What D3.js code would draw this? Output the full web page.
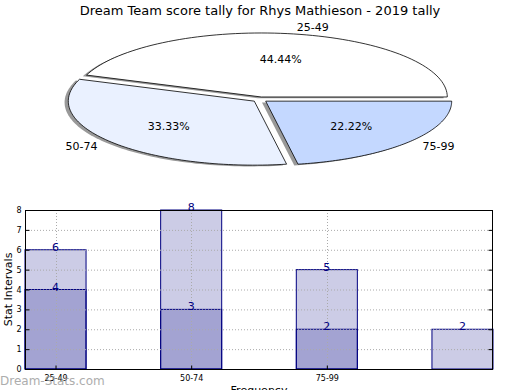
<!DOCTYPE html>
<html>
<head>
<meta charset="utf-8">
<script src="https://cdn.jsdelivr.net/npm/d3@7"></script>
<style>
body { margin: 0; background: #fff; }
text { font-family: "DejaVu Sans", sans-serif; }
</style>
</head>
<body>
<div id="chart"></div>
<script>
// data
var pieLabels = ["25-49", "50-74", "75-99"];
var pieValues = [4, 3, 2];
var pieColors = ["#ffffff", "#eaf1ff", "#c4d8ff"];

var barCats = ["25-49", "50-74", "75-99", ""];
var backVals = [6, 8, 5, 2];
var frontVals = [4, 3, 2, 0];
var yTicks = [0, 1, 2, 3, 4, 5, 6, 7, 8];

var W = 520, H = 390;
var svg = d3.select("#chart").append("svg")
    .attr("width", W).attr("height", H);

svg.append("text")
    .attr("x", 260).attr("y", 15)
    .attr("text-anchor", "middle")
    .attr("font-size", "13px")
    .text("Dream Team score tally for Rhys Mathieson - 2019 tally");

/////////////////////// pie ///////////////////////
var cx = 260, cy = 99.5, rx = 186, ry = 64, explode = 0.04;
var total = d3.sum(pieValues);
var arcs = d3.pie().sort(null).startAngle(0).endAngle(2 * Math.PI)(pieValues);

// angles go counter-clockwise from east (matplotlib style)
function wedgePath(a0, a1, ox, oy) {
    var n = 80, pts = [[ox, oy]];
    for (var i = 0; i <= n; i++) {
        var t = a0 + (a1 - a0) * i / n;
        pts.push([ox + rx * Math.cos(t), oy - ry * Math.sin(t)]);
    }
    return d3.line()(pts) + "Z";
}

var pie = svg.append("g");
// shadows first
arcs.forEach(function(a) {
    var mid = (a.startAngle + a.endAngle) / 2;
    a.mid = mid;
    a.ox = cx + explode * rx * Math.cos(mid);
    a.oy = cy - explode * ry * Math.sin(mid);
    pie.append("path")
        .attr("d", wedgePath(a.startAngle, a.endAngle, a.ox - 0.02 * rx, a.oy + 0.02 * ry))
        .attr("fill", "#000").attr("opacity", 0.4);
});
arcs.forEach(function(a, i) {
    pie.append("path")
        .attr("d", wedgePath(a.startAngle, a.endAngle, a.ox, a.oy))
        .attr("fill", pieColors[i])
        .attr("stroke", "#000").attr("stroke-width", 0.8);
});
arcs.forEach(function(a, i) {
    var c = Math.cos(a.mid), s = Math.sin(a.mid);
    pie.append("text")
        .attr("x", a.ox + 1.1 * rx * c)
        .attr("y", a.oy - 1.1 * ry * s)
        .attr("dy", "0.35em")
        .attr("text-anchor", c > 0 ? "start" : "end")
        .attr("font-size", "11px")
        .text(pieLabels[i]);
    pie.append("text")
        .attr("x", a.ox + 0.6 * rx * c)
        .attr("y", a.oy - 0.6 * ry * s)
        .attr("dy", "0.35em")
        .attr("text-anchor", "middle")
        .attr("font-size", "11px")
        .text((pieValues[i] / total * 100).toFixed(2) + "%");
});

/////////////////////// bars ///////////////////////
var bx0 = 25, bx1 = 493, by0 = 210, by1 = 369;
var barW = 0.45;
var x = d3.scaleLinear().domain([0, barCats.length - 1 + barW]).range([bx0, bx1]);
var y = d3.scaleLinear().domain([0, 8]).range([by1, by0]);
var navy = "#000080";

var g = svg.append("g");

function bars(vals) {
    vals.forEach(function(d, i) {
        if (d <= 0) return;
        g.append("rect")
            .attr("x", x(i))
            .attr("y", y(d))
            .attr("width", x(i + barW) - x(i))
            .attr("height", y(0) - y(d))
            .attr("fill", navy).attr("fill-opacity", 0.2)
            .attr("stroke", navy).attr("stroke-width", 1);
    });
}
bars(backVals);
bars(frontVals);

// grid
yTicks.slice(1, -1).forEach(function(t) {
    g.append("line")
        .attr("x1", bx0).attr("x2", bx1)
        .attr("y1", y(t) + 0.5).attr("y2", y(t) + 0.5)
        .attr("stroke", "#aaa").attr("stroke-dasharray", "1,2");
});
barCats.forEach(function(c, i) {
    if (!c) return;
    var xc = Math.round(x(i + barW / 2)) + 0.5;
    g.append("line")
        .attr("x1", xc).attr("x2", xc)
        .attr("y1", by0).attr("y2", by1)
        .attr("stroke", "#aaa").attr("stroke-dasharray", "1,2");
});

// value labels
function valLabels(vals) {
    vals.forEach(function(d, i) {
        if (d <= 0) return;
        g.append("text")
            .attr("x", x(i + barW / 2))
            .attr("y", y(d) + 1)
            .attr("text-anchor", "middle")
            .attr("font-size", "11px")
            .attr("fill", navy)
            .text(d);
    });
}
valLabels(backVals);
valLabels(frontVals);

// frame
g.append("rect")
    .attr("x", bx0 + 0.5).attr("y", by0 + 0.5)
    .attr("width", bx1 - bx0 - 1).attr("height", by1 - by0)
    .attr("fill", "none").attr("stroke", "#000").attr("stroke-width", 1);

// axes, ticks pointing inward
var yAxis = d3.axisLeft(y).tickValues(yTicks).tickSize(-4).tickPadding(4);
g.append("g").attr("transform", "translate(" + (bx0 + 0.5) + ",0)").call(yAxis)
    .call(function(s) { s.select(".domain").remove(); })
    .selectAll("text").attr("font-size", "8px").attr("font-family", "DejaVu Sans");
var yAxisR = d3.axisRight(y).tickValues(yTicks).tickSize(-4).tickFormat("");
g.append("g").attr("transform", "translate(" + (bx1 - 0.5) + ",0)").call(yAxisR)
    .call(function(s) { s.select(".domain").remove(); });

var xTickVals = [], xTickLabs = [];
barCats.forEach(function(c, i) { if (c) { xTickVals.push(i + barW / 2); xTickLabs.push(c); } });
var xAxis = d3.axisBottom(x).tickValues(xTickVals)
    .tickFormat(function(d, i) { return xTickLabs[i]; })
    .tickSize(-4).tickPadding(6);
g.append("g").attr("transform", "translate(0," + (by1 + 0.5) + ")").call(xAxis)
    .call(function(s) { s.select(".domain").remove(); })
    .selectAll("text").attr("font-size", "8px").attr("font-family", "DejaVu Sans");

svg.append("text")
    .attr("transform", "translate(12," + ((by0 + by1) / 2) + ") rotate(-90)")
    .attr("text-anchor", "middle")
    .attr("font-size", "11px")
    .text("Stat Intervals");

svg.append("text")
    .attr("x", 259).attr("y", 394)
    .attr("text-anchor", "middle")
    .attr("font-size", "11px")
    .text("Frequency");

// watermark
svg.append("text")
    .attr("x", 0).attr("y", 385)
    .attr("font-size", "12px")
    .attr("fill", "#999").attr("opacity", 0.8)
    .text("Dream-Stats.com");
</script>
</body>
</html>
